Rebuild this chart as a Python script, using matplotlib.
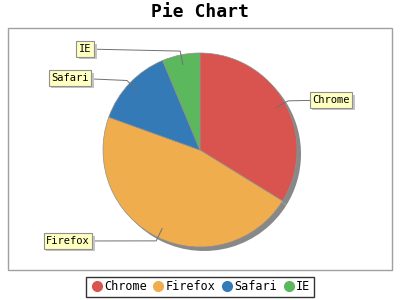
import numpy as np
import matplotlib.pyplot as plt
import matplotlib.patheffects as pe
from matplotlib.patches import Rectangle

# browser share data
browsers = ["Chrome", "Firefox", "Safari", "IE"]
shares = [33.8, 46.7, 13.2, 6.3]
colors = ["#d9534f", "#f0ad4e", "#337ab7", "#5cb85c"]
# where the yellow label boxes sit (pixel coords, y down)
label_pos = [(331, 100), (68, 241), (70, 78), (85, 49)]

plt.rcParams["font.family"] = ["DejaVu Sans Mono"]

W, H = 400, 300
fig = plt.figure(figsize=(4, 3), dpi=100)
ax = fig.add_axes([0, 0, 1, 1])

cx, cy, R = 200, H - 150, 97

# plot area border
ax.add_patch(Rectangle((8, H - 270), 384, 242, fill=False,
                       edgecolor="#a0a0a0", lw=1.0, zorder=1))

fig.text(0.5, 1 - 12 / H, "Pie Chart", ha="center", va="center",
         fontsize=13, fontweight="bold")

# drop shadow, then the pie itself
ax.pie(shares, radius=R, center=(cx + 4, cy - 4), startangle=90,
       counterclock=False, colors=["#888888"] * len(shares),
       wedgeprops=dict(linewidth=0), frame=True)
wedges, _ = ax.pie(shares, radius=R, center=(cx, cy), startangle=90,
                   counterclock=False, colors=colors,
                   wedgeprops=dict(edgecolor="#909090", linewidth=0.5),
                   frame=True)
ax.set_xlim(0, W)
ax.set_ylim(0, H)
ax.set_aspect("equal")
ax.axis("off")

# leader lines and labels
for w, name, (lx, ly) in zip(wedges, browsers, label_pos):
    mid = np.deg2rad((w.theta1 + w.theta2) / 2)
    px, py = cx + 0.9 * R * np.cos(mid), cy + 0.9 * R * np.sin(mid)
    ex, ey = cx + 1.04 * R * np.cos(mid), cy + 1.04 * R * np.sin(mid)
    ly_m = H - ly
    ax.plot([px, ex, lx], [py, ey, ly_m], color="#707070", lw=0.7,
            zorder=3)
    t = ax.text(lx, ly_m, name, ha="center", va="center", fontsize=7.5,
                color="black", zorder=6,
                bbox=dict(boxstyle="square,pad=0.25", facecolor="#ffffc0",
                          edgecolor="#909090", lw=0.8))
    t.get_bbox_patch().set_path_effects([
        pe.SimplePatchShadow(offset=(2, -2), shadow_rgbFace="#c4c4c4",
                             alpha=1.0),
        pe.Normal()])

# legend
handles = [plt.Line2D([], [], marker="o", ls="", color=c, markersize=7)
           for c in colors]
leg = fig.legend(handles, browsers, loc="center", ncol=4,
                 bbox_to_anchor=(0.5, 1 - 287 / H), fontsize=8.5,
                 frameon=True, fancybox=False, edgecolor="black",
                 handletextpad=0.0, columnspacing=0.4, handlelength=1.2,
                 borderpad=0.3, borderaxespad=0)
leg.get_frame().set_linewidth(1.0)

fig.savefig("out.png", dpi=100)
